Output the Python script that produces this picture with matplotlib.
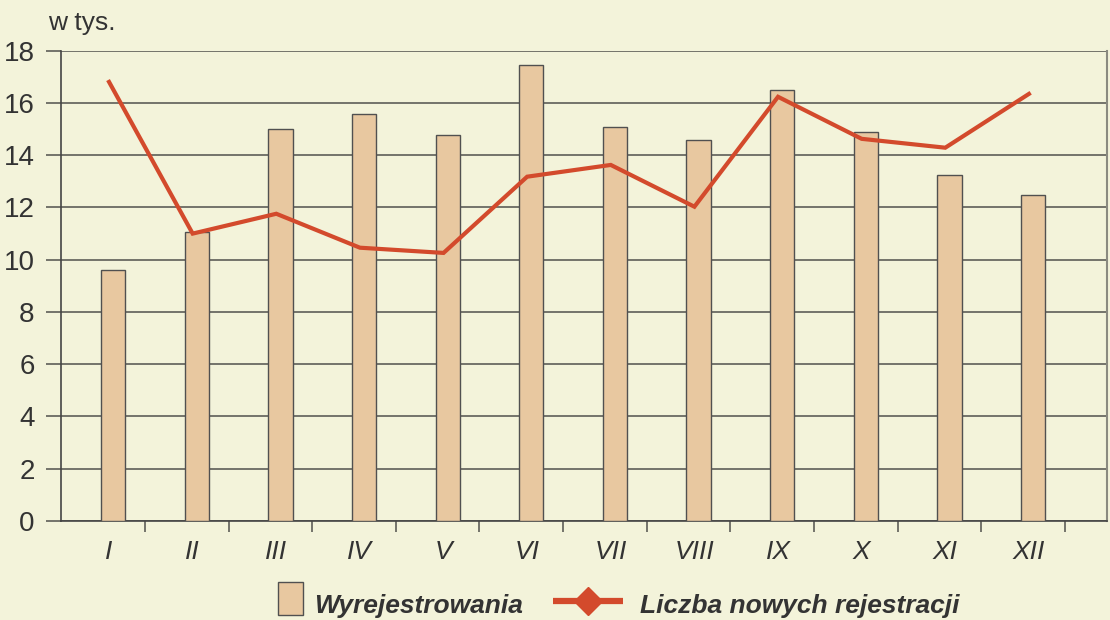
import numpy as np
import matplotlib
matplotlib.use("Agg")
from matplotlib import pyplot as plt
from matplotlib.lines import Line2D
from matplotlib.patches import Patch, Rectangle
from matplotlib.legend_handler import HandlerPatch

months = ["I", "II", "III", "IV", "V", "VI", "VII", "VIII", "IX", "X", "XI", "XII"]
wyrejestrowania = [9.6, 11.08, 15.0, 15.59, 14.76, 17.46, 15.09, 14.6, 16.5, 14.91, 13.25, 12.47]
nowe_rejestracje = [16.81, 11.0, 11.76, 10.46, 10.26, 13.18, 13.63, 12.03, 16.24, 14.63, 14.29, 16.35]
y_ticks = [0, 2, 4, 6, 8, 10, 12, 14, 16, 18]

bg = "#f3f3da"
text_col = "#333333"
grid_col = "#5e5e58"
bar_col = "#e8c8a0"
line_col = "#d34a2c"

plt.rcParams["font.family"] = ["Liberation Sans", "DejaVu Sans"]


class NarrowPatch(HandlerPatch):
    # legend box narrower than the line handle, as in the source
    def create_artists(self, legend, orig_handle, xdescent, ydescent,
                       width, height, fontsize, trans):
        w = 18
        h = 23.8
        r = Rectangle((width - w - xdescent + 4.3, -ydescent + height / 2 - h / 2 + 4), w, h,
                      facecolor=orig_handle.get_facecolor(),
                      edgecolor=orig_handle.get_edgecolor(),
                      linewidth=orig_handle.get_linewidth(), transform=trans)
        return [r]


fig = plt.figure(figsize=(11.1, 6.2), dpi=100, facecolor=bg)
ax = fig.add_axes([0.055, 0.16, 0.942, 0.758])
ax.set_facecolor(bg)

x = np.arange(len(months))
ax.bar(x + 0.05, wyrejestrowania, width=0.29, color=bar_col, edgecolor="#505050",
       linewidth=1.0, zorder=3)
ax.plot(x, nowe_rejestracje, color=line_col, linewidth=3.0, zorder=4,
        solid_joinstyle="miter")

ax.set_ylim(0, 18)
ax.set_xlim(-0.574, 11.93)
ax.set_yticks(y_ticks)
ax.set_yticklabels([str(v) for v in y_ticks], fontsize=20, color=text_col)
ax.yaxis.grid(True, color=grid_col, linewidth=1.2, zorder=1)
ax.tick_params(axis="y", length=11, width=1.2, color=grid_col, pad=8)

# category labels at centers, ticks at boundaries
ax.set_xticks(x)
ax.set_xticklabels(months, fontsize=19, style="italic", color=text_col)
ax.tick_params(axis="x", which="major", length=0, pad=14)
ax.set_xticks(np.arange(0.43, 11.5, 1), minor=True)
ax.tick_params(axis="x", which="minor", length=8, width=1.2, color=grid_col)

for side in ["left", "bottom"]:
    ax.spines[side].set_color("#444444")
    ax.spines[side].set_linewidth(1.2)
ax.spines["right"].set_color("#8a8a80")
ax.spines["right"].set_linewidth(1.5)
ax.spines["top"].set_visible(False)

fig.text(0.043, 0.963, "w tys.", fontsize=19, color=text_col, ha="left", va="center")

handles = [
    Patch(facecolor=bar_col, edgecolor="#505050", linewidth=1.0),
    Line2D([0], [0], color=line_col, linewidth=4.5, marker="D", markersize=14,
           markerfacecolor=line_col, markeredgecolor=line_col,
           solid_capstyle="butt"),
]
fig.legend(handles, ["Wyrejestrowania", "Liczba nowych rejestracji"],
           loc="center", bbox_to_anchor=(0.5342, 0.025), ncol=2, frameon=False,
           prop={"size": 19, "weight": "bold", "style": "italic"},
           labelcolor=text_col, handlelength=2.65, handleheight=1.5,
           columnspacing=1.14, handletextpad=0.64,
           handler_map={Patch: NarrowPatch()})

fig.savefig("out.png", dpi=100, facecolor=bg)
